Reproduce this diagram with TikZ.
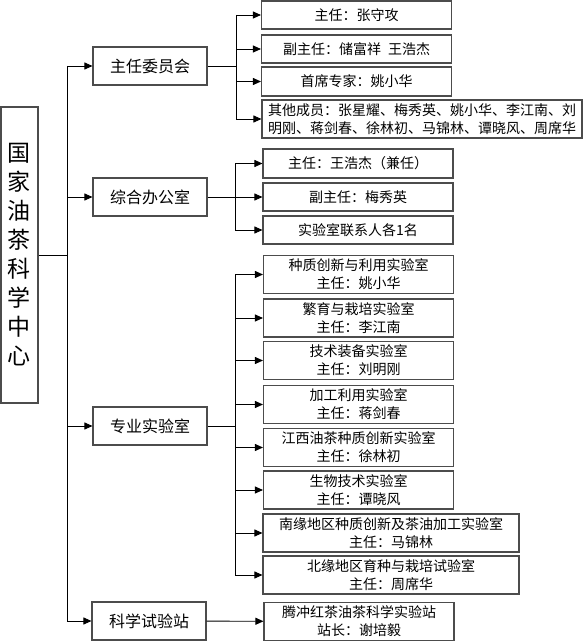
\documentclass[tikz,border=0pt]{standalone}
\usepackage{fontspec}
\setmainfont{Noto Sans CJK SC}
\usetikzlibrary{arrows.meta}

\tikzset{
  box/.style={draw=black!70, line width=1.1pt, align=center, inner sep=0pt},
  rootbox/.style={box, minimum width=37pt, minimum height=296pt, font=\fontsize{23}{29}\selectfont},
  unitbox/.style={box, minimum width=114pt, minimum height=38pt, font=\fontsize{16}{20}\selectfont},
  memberbox/.style={box, minimum width=190pt, minimum height=29pt, font=\fontsize{14}{18}\selectfont},
  labbox/.style={memberbox, minimum height=38pt},
  widebox/.style={labbox, minimum width=256pt},
  link/.style={line width=0.9pt},
  feed/.style={link, -{Triangle[length=8pt,width=7pt]}}
}

\begin{document}
\begin{tikzpicture}[x=1pt,y=-1pt]
        \useasboundingbox (0,0) rectangle (583,642);

        \node[rootbox] (centre) at (19.5,255) {国\\家\\油\\茶\\科\\学\\中\\心};

        \node[unitbox] (committee) at (150,66) {主任委员会};
        \node[unitbox] (office) at (150,197) {综合办公室};
        \node[unitbox] (labs) at (150,426) {专业实验室};
        \node[unitbox] (station) at (149,621) {科学试验站};

        % committee
        \node[memberbox, minimum height=28pt] (chair) at (356.5,15) {主任：张守攻};
        \node[memberbox, minimum height=28pt] (vicechair) at (356.5,49) {副主任：储富祥\hspace{0.5em}王浩杰};
        \node[memberbox] (expert) at (356.5,81.5) {首席专家：姚小华};
        \node[memberbox, minimum width=320pt, minimum height=38pt] (members) at (422,119)
             {其他成员：张星耀、梅秀英、姚小华、李江南、刘\\明刚、蒋剑春、徐林初、马锦林、谭晓风、周席华};

        % office
        \node[memberbox] (head) at (358,163.5) {主任：王浩杰（兼任）};
        \node[memberbox, minimum height=28pt] (vicehead) at (358,197) {副主任：梅秀英};
        \node[memberbox, minimum height=28pt] (contact) at (358,230) {实验室联系人各1名};

        % labs
        \node[labbox] (germplasm) at (358.5,274.5) {种质创新与利用实验室\\主任：姚小华};
        \node[labbox] (breeding) at (358.5,318) {繁育与栽培实验室\\主任：李江南};
        \node[labbox] (equipment) at (358.5,360.5) {技术装备实验室\\主任：刘明刚};
        \node[labbox] (processing) at (358.5,404.5) {加工利用实验室\\主任：蒋剑春};
        \node[labbox] (jiangxi) at (358.5,447.5) {江西油茶种质创新实验室\\主任：徐林初};
        \node[labbox] (biotech) at (358.5,490) {生物技术实验室\\主任：谭晓风};
        \node[widebox] (south) at (391,533) {南缘地区种质创新及茶油加工实验室\\主任：马锦林};
        \node[widebox] (north) at (391,575) {北缘地区育种与栽培试验室\\主任：周席华};

        % station
        \node[labbox] (tengchong) at (359,621.5) {腾冲红茶油茶科学实验站\\站长：谢培毅};

        \coordinate (trunk) at (67,255);
        \coordinate (cfork) at (236,66);
        \coordinate (ofork) at (235,197);
        \coordinate (lfork) at (235,426);

        \draw[link] (centre) -- (trunk);
        \draw[link] (trunk |- committee) -- (trunk |- station);
        \foreach \u in {committee,office,labs,station}
            \draw[feed] (trunk |- \u) -- (\u);

        \draw[link] (committee) -- (cfork);
        \draw[link] (cfork |- chair) -- (cfork |- members);
        \foreach \m in {chair,vicechair,expert,members}
            \draw[feed] (cfork |- \m) -- (\m);

        \draw[link] (office) -- (ofork);
        \draw[link] (ofork |- head) -- (ofork |- contact);
        \foreach \m in {head,vicehead,contact}
            \draw[feed] (ofork |- \m) -- (\m);

        \draw[link] (labs) -- (lfork);
        \draw[link] (lfork |- germplasm) -- (lfork |- north);
        \foreach \m in {germplasm,breeding,equipment,processing,jiangxi,biotech,south,north}
            \draw[feed] (lfork |- \m) -- (\m);

        \draw[feed] (station) -- (tengchong);
    \end{tikzpicture}
\end{document}
